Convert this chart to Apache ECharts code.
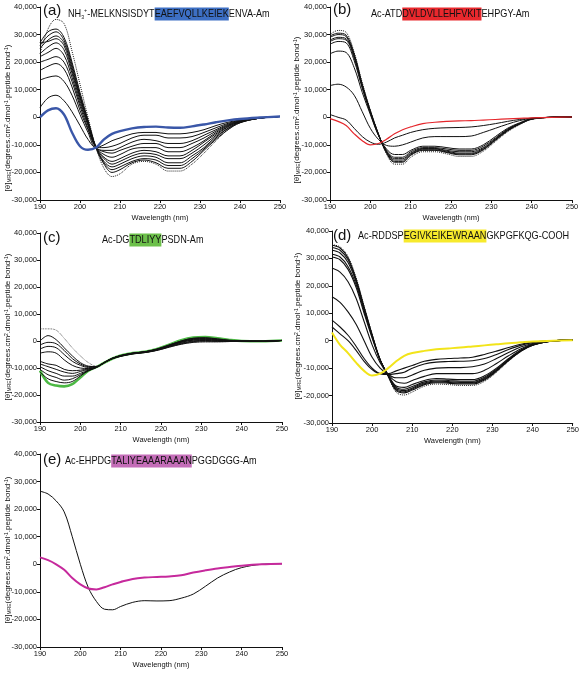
<!DOCTYPE html>
<html><head><meta charset="utf-8">
<script src="https://cdn.jsdelivr.net/npm/echarts@6/dist/echarts.min.js"></script>
<style>html,body{margin:0;padding:0;background:#fff}#c{width:582px;height:673px}</style>
</head><body><div id="c"></div>
<script>
// Wavelengths (nm) shared by every curve
const W = [190,192,194,196,198,200,202,204,206,208,210,213,216,219,222,225,228,231,234,237,240,245,250];
const xTicks = [190,200,210,220,230,240,250];
const yTicks = [-30,-20,-10,0,10,20,30,40]; // ×1000

// values in thousands of degrees·cm²·dmol⁻¹
// Panel (a)
const A_dot  = [23,32,35.5,34,24,12,0,-11,-18.5,-21.5,-20.5,-17,-16,-17,-19.5,-19.5,-17,-13,-8.5,-4.5,-2,-0.3,0.3];
const A_1    = [27,31,32,29,20,9,-1,-11,-17,-20,-19,-16.5,-15.5,-16.5,-18.5,-18.5,-16,-12,-8,-4.5,-2,-0.3,0.3];
const A_2    = [26,29.5,31,28,19,8,-1.5,-11,-16.5,-19,-18,-16,-15,-15.5,-17.5,-17.5,-15,-11.5,-7.5,-4,-1.9,-0.3,0.3];
const A_3    = [25,28,29.5,27,18,7.5,-2,-11,-16,-18,-17,-15,-14,-14.5,-16.5,-16.5,-14,-11,-7,-4,-1.8,-0.3,0.3];
const A_4    = [27,27.5,28.5,26,17,7,-2,-11,-15,-17,-16,-14,-13,-13.5,-15,-15,-13,-10,-6.5,-3.5,-1.7,-0.3,0.3];
const A_5    = [23,25.5,27,24.5,16,6,-2.5,-11,-14.5,-16,-15,-13,-12,-12.5,-14,-14,-12,-9,-6,-3.3,-1.6,-0.3,0.3];
const A_6    = [22,23.5,25,22.5,14.5,5,-3,-11,-13.5,-14.5,-13.5,-11.5,-11,-11,-12.5,-12.5,-11,-8.5,-5.5,-3,-1.5,-0.3,0.3];
const A_7    = [20,21,22,20,13,4,-4,-11,-12.5,-13,-12,-10.5,-9.5,-9.5,-11,-11,-9.5,-7.5,-5,-2.8,-1.4,-0.3,0.3];
const A_8    = [17,18.5,19.5,17.5,11,2.5,-4.5,-11,-12,-12,-11,-9,-8,-8.5,-9.5,-9.5,-8.5,-6.5,-4.5,-2.5,-1.3,-0.2,0.3];
const A_9    = [13.5,14.5,15,13,8,1,-5.5,-11,-11,-10.5,-9.5,-7.5,-6.5,-6.5,-7.5,-7.5,-7,-5.5,-3.8,-2.2,-1.1,-0.2,0.3];
const A_10   = [3.5,7,8,6,2,-3,-8,-11,-10,-8.5,-7.5,-6,-5.5,-5.5,-6,-6,-5.5,-4.5,-3,-1.8,-1,-0.2,0.3];
const A_blue = [0,2.5,3.3,1,-5.5,-10.5,-11.8,-11,-8,-6,-5,-4,-3.5,-3.4,-3.7,-3.8,-3.3,-2.6,-1.8,-1.1,-0.6,-0.1,0.3];

// Panel (b)
const B_dot = [30,31.5,30.8,23.5,12.5,2.6,-6,-13.3,-17,-17,-14.5,-12.5,-12.5,-13.3,-14.2,-14.2,-12.3,-8.8,-5.3,-2.7,-0.8,0,0.1];
const B_1   = [29.5,30.5,29.8,23,12,2.4,-6,-12.9,-16.3,-16.3,-13.8,-12,-12,-12.8,-13.6,-13.6,-11.8,-8.4,-5,-2.5,-0.7,0,0.1];
const B_2   = [29,30,29.3,22.5,11.6,2.2,-6.1,-12.7,-16,-16,-13.6,-11.8,-11.8,-12.6,-13.3,-13.3,-11.6,-8.2,-4.8,-2.4,-0.6,0,0.1];
const B_3   = [28,29,28.5,22,11.3,2,-6.2,-12.5,-15.5,-15.5,-13.3,-11.5,-11.5,-12.3,-13,-13,-11.3,-8,-4.7,-2.4,-0.6,0,0.1];
const B_4   = [27.5,28.5,28,21.5,11,1.8,-6.3,-12.3,-15,-15,-13,-11.3,-11.3,-12,-12.5,-12.5,-11,-7.8,-4.5,-2.3,-0.6,0,0.1];
const B_5   = [26.5,27.5,27,20.5,10.5,1.5,-6.5,-12,-14.5,-14.5,-12.5,-11,-11,-11.5,-12,-12,-10.5,-7.5,-4.3,-2.2,-0.6,0,0.1];
const B_6   = [23,24,23.5,18,9,1,-6.5,-11.5,-13.5,-13.5,-12,-10.5,-10.5,-11,-11.5,-11.5,-10,-7,-4,-2,-0.5,0,0.1];
const B_7   = [11.5,12,11,8,2,-4,-8,-10.2,-10.5,-10,-9,-7.5,-7,-7,-7,-6.8,-5.5,-4,-2.5,-1.2,-0.4,0,0.1];
const B_8   = [1,0,-1,-4,-7,-9,-9.8,-9,-7.5,-6.5,-5.5,-4.5,-4,-3.8,-3.7,-3.5,-3,-2.3,-1.5,-0.8,-0.3,0,0.1];
const B_red = [-0.5,-1.5,-3,-6,-8.5,-10,-9.5,-8,-6,-4.5,-3.5,-2.3,-1.8,-1.5,-1.3,-1.2,-1,-0.8,-0.6,-0.4,-0.2,0,0.1];

// Panel (c)
const C_dot   = [4.5,4.5,4,1,-2.5,-5.5,-8,-9.3,-8,-6.6,-5.7,-4.8,-4.3,-3.5,-2.3,-1.2,-0.5,-0.3,-0.3,-0.2,-0.1,-0.1,0.2];
const C_1     = [0,2,0.5,-2.5,-5.5,-8,-9.3,-9.5,-7.9,-6.5,-5.7,-4.8,-4.3,-3.5,-2.3,-1.2,-0.5,-0.3,-0.3,-0.2,-0.1,-0.1,0.2];
const C_2     = [-1.5,-0.5,-1,-3.5,-6.5,-8.5,-9.5,-9.5,-7.9,-6.5,-5.6,-4.7,-4.2,-3.4,-2.1,-1,-0.2,0,-0.1,-0.1,-0.1,-0.1,0.2];
const C_3     = [-3,-2,-2.5,-5,-7.5,-9,-9.8,-9.6,-7.9,-6.5,-5.6,-4.7,-4.2,-3.3,-2,-0.8,0,0.2,0,-0.1,-0.1,-0.1,0.2];
const C_4     = [-4.5,-4,-4.5,-7,-9,-10,-10.2,-9.6,-7.9,-6.4,-5.5,-4.6,-4.1,-3.2,-1.8,-0.5,0.3,0.4,0.2,0,-0.1,-0.1,0.2];
const C_5     = [-7.5,-8.5,-9,-10.5,-11,-10.8,-10.3,-9.7,-7.9,-6.4,-5.5,-4.6,-4.1,-3.2,-1.8,-0.5,0.4,0.5,0.3,0,-0.1,-0.1,0.2];
const C_6     = [-8.5,-9.5,-10.5,-11.5,-12,-11.3,-10.5,-9.7,-8,-6.4,-5.5,-4.6,-4,-3.1,-1.7,-0.3,0.6,0.7,0.4,0.1,0,-0.1,0.2];
const C_7     = [-9.5,-11,-12,-13,-13,-12,-10.8,-9.7,-8,-6.4,-5.4,-4.5,-4,-3.1,-1.6,-0.2,0.8,0.9,0.5,0.1,0,-0.1,0.2];
const C_8     = [-10.5,-12.5,-13.5,-14.5,-14,-12.5,-11,-9.8,-8,-6.4,-5.4,-4.5,-4,-3,-1.5,0,1,1.1,0.7,0.2,0,-0.1,0.2];
const C_9     = [-11.5,-14,-15,-15.5,-15,-13,-11,-9.8,-8,-6.4,-5.4,-4.5,-4,-3,-1.5,0,1,1.2,0.8,0.3,0,-0.1,0.2];
const C_green = [-11,-15.5,-16.5,-16.8,-16,-13.5,-11,-9.6,-8,-6.5,-5.4,-4.5,-4,-3,-1.4,0.3,1.3,1.5,1,0.4,0,-0.1,0.2];

// Panel (d)
const D_dot = [35,34.2,30.7,23,12.6,2.4,-7,-13.2,-18.8,-19.8,-18.7,-16.6,-15.8,-16,-16.3,-16.3,-14.8,-11.5,-7.5,-4,-1.7,-0.1,0.2];
const D_9   = [34.8,33.8,30.2,22.5,12.3,2.2,-7,-12.9,-18.2,-19,-18,-16,-15.3,-15.5,-15.8,-15.8,-14.3,-11.1,-7.2,-3.9,-1.6,-0.1,0.2];
const D_8   = [34,33,29.5,22,12,2,-7,-12.8,-17.8,-18.6,-17.6,-15.7,-15,-15.2,-15.5,-15.5,-14,-10.9,-7.1,-3.8,-1.6,-0.1,0.2];
const D_7   = [33,32,28.5,21.5,11.5,1.8,-7,-12.7,-17.5,-18.2,-17.2,-15.4,-14.7,-14.9,-15.2,-15.2,-13.7,-10.7,-7,-3.7,-1.5,-0.1,0.2];
const D_6   = [31.5,30.5,27,20.5,10.8,1.5,-7,-12.6,-17,-17.7,-16.7,-15,-14.3,-14.5,-14.8,-14.8,-13.3,-10.4,-6.8,-3.6,-1.5,-0.1,0.2];
const D_5   = [30.5,29.5,26,19.5,10,1,-7,-12.5,-16.5,-17,-16,-14.5,-13.8,-14,-14.2,-14.2,-12.8,-10,-6.5,-3.5,-1.4,-0.1,0.2];
const D_4   = [26.5,25,21.5,15.5,7,-1.5,-8,-12.4,-15,-15.5,-14.5,-13,-12,-12,-12,-12,-10.8,-8.3,-5.5,-3,-1.2,-0.1,0.2];
const D_3   = [16,14,10.5,6,0,-6,-10,-12.3,-13.5,-13.5,-12.5,-10.8,-10,-9.8,-9.8,-9.5,-8.5,-6.5,-4.3,-2.3,-1,0,0.2];
const D_2   = [7.5,5,2,-2,-6.5,-10,-12,-12.3,-12,-11.5,-10,-8.5,-7.8,-7.6,-7.5,-7.3,-6.5,-5,-3.2,-1.7,-0.7,0,0.2];
const D_1   = [5,2.5,0,-3.5,-7.5,-10.5,-12,-12,-11,-10,-9,-7.5,-6.8,-6.5,-6.3,-6,-5,-3.8,-2.5,-1.3,-0.5,0,0.2];
const D_yel = [3,-1.5,-4.5,-8,-11,-12.7,-12,-10,-7.5,-5.5,-4.5,-3.7,-3.1,-2.8,-2.5,-2.1,-1.7,-1.3,-0.9,-0.6,-0.3,0,0.2];

// Panel (e)
const E_black = [26.5,25.5,23,19,10,0,-8.5,-13.5,-16.3,-16.5,-15.3,-13.8,-13.2,-13.3,-13.2,-12.3,-10.8,-8,-5,-2.8,-1.2,0,0.2];
const E_mag   = [2.5,1.5,0,-2,-5,-7.3,-8.8,-9.1,-8.3,-7.3,-6.4,-5.3,-4.8,-4.6,-4.4,-4,-3,-2.2,-1.5,-1,-0.5,0,0.2];

// ---------- layout ----------
const grids = [
  {left:40,  top:7,   width:240, height:193},
  {left:330, top:7,   width:242, height:193},
  {left:40,  top:233, width:242, height:189},
  {left:332, top:231, width:241, height:192},
  {left:40,  top:454, width:242, height:193}
];
const AX = '#111';
const FONT = '"Liberation Sans",Arial,sans-serif';
const fmtY = v => v === 0 ? '0' : (v*1000).toLocaleString('en-US');

const xAxes = grids.map((g,i)=>({
  type:'value', gridIndex:i, min:190, max:250, interval:10,
  name:'Wavelength (nm)', nameLocation:'middle', nameGap:14,
  nameTextStyle:{fontSize:7.5, color:AX, fontFamily:FONT},
  axisLine:{show:true, onZero:false, lineStyle:{color:AX, width:1}},
  axisTick:{show:true, inside:false, length:3, lineStyle:{color:AX}},
  axisLabel:{fontSize:7.5, color:AX, margin:3, fontFamily:FONT},
  splitLine:{show:false}
}));
const yAxes = grids.map((g,i)=>({
  type:'value', gridIndex:i, min:-30, max:40, interval:10,
  axisLine:{show:true, onZero:false, lineStyle:{color:AX, width:1}},
  axisTick:{show:true, inside:false, length:3, lineStyle:{color:AX}},
  axisLabel:{fontSize:7.5, color:AX, margin:3, fontFamily:FONT, formatter:fmtY},
  splitLine:{show:false}
}));

const series = [];
function add(i, vals, color, width, type, z){
  series.push({
    type:'line', xAxisIndex:i, yAxisIndex:i, smooth:0.35, symbol:'none',
    data: W.map((w,j)=>[w, vals[j]]),
    lineStyle:{color:color, width:width, type:type||'solid'}, z:z||2, silent:true
  });
}
// (a)
add(0, A_dot, '#222', 1, 'dotted');
[A_1,A_2,A_3,A_4,A_5,A_6,A_7,A_8,A_9,A_10].forEach(v=>add(0, v, '#111', 1));
add(0, A_blue, '#3a57a8', 2.4, 'solid', 3);
// (b)
add(1, B_dot, '#222', 1, 'dotted');
[B_1,B_2,B_3,B_4,B_5,B_6,B_7,B_8].forEach(v=>add(1, v, '#111', 1));
add(1, B_red, '#e5262b', 1.2, 'solid', 3);
// (c)
add(2, C_dot, '#333', 0.8, 'dotted');
add(2, C_green, '#4cb944', 2.6, 'solid', 1);
[C_1,C_2,C_3,C_4,C_5,C_6,C_7,C_8,C_9].forEach(v=>add(2, v, '#111', 1));
// (d)
add(3, D_dot, '#222', 1, 'dotted');
[D_9,D_8,D_7,D_6,D_5,D_4,D_3,D_2,D_1].forEach(v=>add(3, v, '#111', 1.1));
add(3, D_yel, '#f2e41a', 2, 'solid', 3);
// (e)
add(4, E_black, '#111', 1);
add(4, E_mag, '#c6299c', 2, 'solid', 3);

// ---------- texts ----------
const seqRich = bg => ({
  hl:{backgroundColor:bg, fontSize:10.5, fill:'#111', fontFamily:FONT, padding:[1,0,1,0]},
  sub:{fontSize:6, fill:'#111', verticalAlign:'bottom', fontFamily:FONT},
  sup:{fontSize:6, fill:'#111', verticalAlign:'top', fontFamily:FONT}
});
function txt(x, y, text, size, rich, sx){
  return {type:'text', x:x, y:y, scaleX:sx||1, silent:true, z:10,
    style:{text:text, fontSize:size, fill:'#111', fontFamily:FONT,
      align:'left', verticalAlign:'middle', rich:rich}};
}
const yLabel = '[θ]{s|MRE}(degrees.cm{p|2}.dmol{p|-1}.peptide bond{p|-1})';
const yRich = {
  s:{fontSize:5, fill:'#111', verticalAlign:'bottom'},
  p:{fontSize:5, fill:'#111', verticalAlign:'top'}
};
function ylab(x, y){
  return {type:'text', x:x, y:y, rotation:Math.PI/2, silent:true, z:10,
    style:{text:yLabel, fontSize:8, fill:'#111', fontFamily:FONT, align:'center', verticalAlign:'middle', rich:yRich}};
}
const SX = 0.87;
const graphics = [
  txt(43, 11, '(a)', 15),
  txt(68, 14, 'NH{sub|3}{sup|+}-MELKNSISDYT{hl|EAEFVQLLKEIEK}ENVA-Am', 10.5, seqRich('#3d6fc4'), SX),
  txt(333, 10, '(b)', 15),
  txt(371, 14, 'Ac-ATD{hl|DVLDVLLEHFVKIT}EHPGY-Am', 10.5, seqRich('#e8282d'), SX),
  txt(43, 238, '(c)', 15),
  txt(102, 240, 'Ac-DG{hl|TDLIYY}PSDN-Am', 10.5, seqRich('#6cc04a'), SX),
  txt(333, 236, '(d)', 15),
  txt(358, 236, 'Ac-RDDSP{hl|EGIVKEIKEWRAAN}GKPGFKQG-COOH', 10.5, seqRich('#f7ea2c'), SX),
  txt(43, 460, '(e)', 15),
  txt(65, 461, 'Ac-EHPDG{hl|TALIYEAAARAAAN}PGGDGGG-Am', 10.5, seqRich('#c46db8'), SX),
  ylab(8, 118), ylab(297, 110), ylab(8, 327), ylab(298, 326), ylab(8, 550)
];

const chart = echarts.init(document.getElementById('c'), null, {renderer:'canvas'});
chart.setOption({
  animation:false,
  backgroundColor:'#fff',
  grid: grids.map(g=>Object.assign({containLabel:false}, g)),
  xAxis: xAxes, yAxis: yAxes, series: series, graphic: graphics
});
</script></body></html>
